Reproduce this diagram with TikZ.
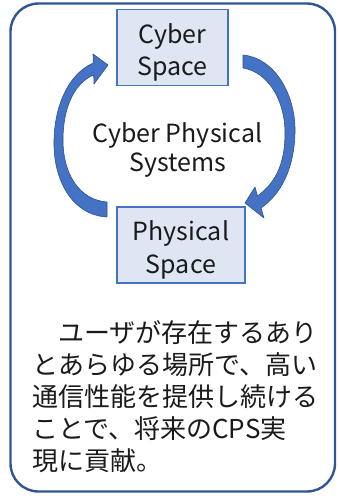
\documentclass[tikz,border=0pt]{standalone}
\usepackage{fontspec}
\setmainfont{Noto Sans CJK JP}
\definecolor{frameblue}{HTML}{2F5597}
\definecolor{boxblue}{HTML}{4472C4}
\definecolor{boxfill}{HTML}{DEE6F3}
\definecolor{arrowfill}{HTML}{4472C4}
\definecolor{arrowedge}{HTML}{2F528F}
\definecolor{txt}{HTML}{1A1A1A}
\tikzset{
  spacebox/.style={draw=boxblue, line width=1.5pt, fill=boxfill},
  lat/.style={font=\fontsize{25}{30}\selectfont, text=txt, inner sep=0pt},
  jp/.style={font=\fontsize{26}{32}\selectfont, text=txt, inner sep=0pt, anchor=base west},
  blockarrow/.style={fill=arrowfill, draw=arrowedge, line width=0.6pt, line join=round},
}
\begin{document}
\begin{tikzpicture}[x=1pt,y=-1pt]
\useasboundingbox (0,0) rectangle (338,498);
% outer frame
\draw[frameblue, line width=2.4pt, rounded corners=28pt] (10.5,3.5) rectangle (335,491.5);
% boxes
\draw[spacebox] (117,9.5) rectangle (228,85.5);
\draw[spacebox] (117,207) rectangle (245,283);
% box texts
\node[lat, anchor=base] (c1) at (172.5,43) {Cyber};
\node[lat, anchor=base] (c2) at (172.5,75) {Space};
\node[lat, anchor=base] (p1) at (181,240) {Physical};
\node[lat, anchor=base] (p2) at (181,273) {Space};
% center text
\node[lat, anchor=base] (s1) at (177.5,142) {Cyber Physical};
\node[lat, anchor=base] (s2) at (178,171) {Systems};
% left arrow (up)
\draw[blockarrow] (107,217) .. controls (72,215) and (53,180) .. (54,140)
  .. controls (55,100) and (72,72) .. (93.3,63) -- (93,54) -- (108,65) -- (94,84) -- (93.7,75)
  .. controls (76,82) and (63,105) .. (63,140)
  .. controls (63,175) and (80,200) .. (107,202) -- cycle;
% right arrow (down)
\draw[blockarrow] (243,55) .. controls (275,58) and (296,95) .. (295,133)
  .. controls (294,170) and (280,195) .. (261,208) -- (264,218) -- (245,203) -- (255,187) -- (257.5,196)
  .. controls (275,183) and (285,165) .. (285,133)
  .. controls (285,100) and (268,72) .. (243,68) -- cycle;
% Japanese text
\node[jp] (t1) at (32,342) {　ユーザが存在するあり};
\node[jp] (t2) at (32,374) {とあらゆる場所で、高い};
\node[jp] (t3) at (32,406) {通信性能を提供し続ける};
\node[jp] (t4) at (32,438) {ことで、将来のCPS実};
\node[jp] (t5) at (32,470) {現に貢献。};
\end{tikzpicture}
\end{document}
